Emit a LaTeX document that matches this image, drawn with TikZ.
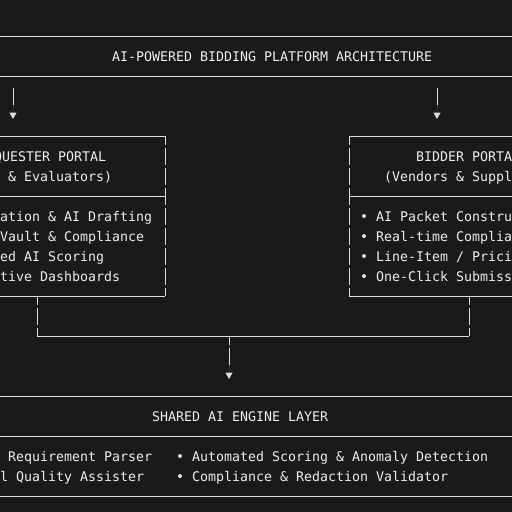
\documentclass[tikz,border=0pt]{standalone}
\usepackage{fontspec}
\newfontfamily\codefont{DejaVu Sans Mono}
\usetikzlibrary{arrows.meta}
\definecolor{bgdark}{HTML}{1A1A1A}
\definecolor{ink}{HTML}{EDEDED}
\definecolor{rule}{HTML}{DCDCDC}

\begin{document}
\begin{tikzpicture}[x=1pt, y=-1pt,
    txt/.style={anchor=base west, inner sep=0pt, text=ink,
      font=\codefont\fontsize{13.29pt}{20pt}\selectfont},
    hline/.style={draw=rule, line width=1pt},
    vline/.style={draw=rule, line width=1pt, dash pattern=on 17pt off 3pt, dash phase=8.5pt},
    drop/.style={draw=rule, fill=rule, line width=1pt, -{Triangle[width=7pt,length=6.5pt]}}]
    \fill[bgdark] (0,0) rectangle (512,512);
    \useasboundingbox (0,0) rectangle (512,512);
    \clip (0,0) rectangle (512,512);

    % title band
    \draw[hline] (-10,36) -- (522,36);
    \draw[hline] (-10,76) -- (522,76);
    \node[txt] (title) at (112,61) {AI-POWERED BIDDING PLATFORM ARCHITECTURE};

    % arrows into the portals
    \coordinate (reqIn) at (13,87.5);
    \coordinate (reqTip) at (13,119);
    \coordinate (bidIn) at (437,87.5);
    \coordinate (bidTip) at (437,119);
    \draw[drop, dash pattern=on 17pt off 10pt] (reqIn) -- (reqTip);
    \draw[drop, dash pattern=on 17pt off 10pt] (bidIn) -- (bidTip);

    % requester portal
    \coordinate (reqNE) at (165,136);
    \coordinate (reqSE) at (165,296);
    \draw[hline] (-10,136) -- (reqNE);
    \draw[hline] (-10,196) -- (165,196);
    \draw[hline] (-10,296) -- (reqSE);
    \draw[vline] (reqNE) -- (reqSE);
    \node[txt] (reqhead) at (-6,161) {QUESTER PORTAL};
    \node[txt] (reqsub) at (8,181) {\& Evaluators)};
    \foreach \t [count=\i] in {ation \& AI Drafting, Vault \& Compliance, ed AI Scoring, tive Dashboards} {
        \node[txt] (reqitem\i) at (0,{201+20*\i}) {\t};
    }

    % bidder portal
    \coordinate (bidNW) at (349,136);
    \coordinate (bidSW) at (349,296);
    \draw[hline] (bidNW) -- (522,136);
    \draw[hline] (349,196) -- (522,196);
    \draw[hline] (bidSW) -- (522,296);
    \draw[vline] (bidNW) -- (bidSW);
    \node[txt] (bidhead) at (416,161) {BIDDER PORTA};
    \node[txt] (bidsub) at (384,181) {(Vendors \& Suppl};
    \foreach \t [count=\i] in {AI Packet Constru, Real-time Complia, Line-Item / Prici, One-Click Submiss} {
        \node[txt] (bidbul\i) at (360,{201+20*\i}) {•};
        \node[txt] (biditem\i) at (376,{201+20*\i}) {\t};
    }

    % merge into the engine
    \coordinate (reqOut) at (37,296);
    \coordinate (mergeL) at (37,336);
    \coordinate (bidOut) at (469,296);
    \coordinate (mergeR) at (469,336);
    \coordinate (mergeDown) at (229,336);
    \coordinate (engTip) at (229,379);
    \draw[vline] (reqOut) -- (mergeL);
    \draw[vline] (bidOut) -- (mergeR);
    \draw[hline] (mergeL) -- (mergeR);
    \draw[drop, dash pattern=on 8.5pt off 3pt on 17pt off 20pt] (mergeDown) -- (engTip);

    % shared engine layer
    \draw[hline] (-10,396) -- (522,396);
    \draw[hline] (-10,436) -- (522,436);
    \draw[hline] (-10,496) -- (522,496);
    \node[txt] (enghead) at (152,421) {SHARED AI ENGINE LAYER};
    \node[txt] (engitem1) at (8,461) {Requirement Parser};
    \node[txt] (engitem2) at (0,481) {l Quality Assister};
    \foreach \t [count=\i] in {Automated Scoring \& Anomaly Detection, Compliance \& Redaction Validator} {
        \node[txt] (engbul\i) at (176,{441+20*\i}) {•};
        \node[txt] (engitem\the\numexpr\i+2\relax) at (192,{441+20*\i}) {\t};
    }
\end{tikzpicture}
\end{document}
